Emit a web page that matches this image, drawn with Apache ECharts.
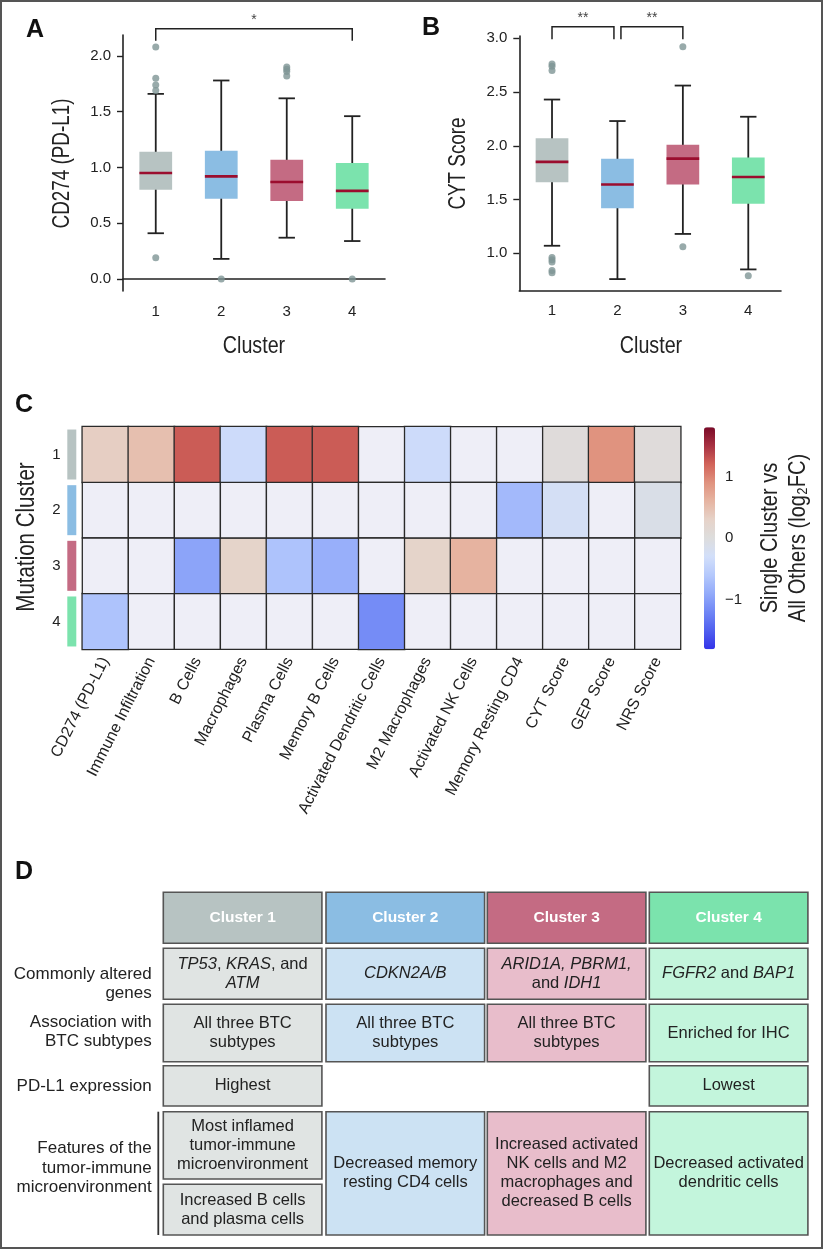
<!DOCTYPE html>
<html>
<head>
<meta charset="utf-8">
<script src="https://cdn.jsdelivr.net/npm/echarts@6/dist/echarts.min.js"></script>
<style>
  html, body { margin: 0; padding: 0; background: #fff; }
  #chart { width: 823px; height: 1249px; }
</style>
</head>
<body>
<div id="chart"></div>
<script>
// ─── data ─────────────────────────────────────────────────────────────────────
const clusters      = ['1', '2', '3', '4']
const clusterColors = ['#b7c3c2', '#8bbde3', '#c46b83', '#7be3ad']
const clusterLight  = ['#e0e4e3', '#cce2f3', '#e8bdcb', '#c3f5dc']

// panel A — CD274 (PD-L1): [low whisker, q1, median, q3, high whisker]
const pdl1Box = [
  [0.41, 0.80, 0.95, 1.14, 1.66],
  [0.18, 0.72, 0.92, 1.15, 1.78],
  [0.37, 0.70, 0.87, 1.07, 1.62],
  [0.34, 0.63, 0.79, 1.04, 1.46],
]
const pdl1Outliers = [[0, 2.08], [0, 1.80], [0, 1.74], [0, 1.69], [0, 0.19], [1, 0.0],
                      [2, 1.90], [2, 1.88], [2, 1.86], [2, 1.82], [3, 0.0]]
const pdl1Sig = [[0, 3, '*']]

// panel B — CYT score
const cytBox = [
  [1.07, 1.66, 1.85, 2.07, 2.43],
  [0.76, 1.42, 1.64, 1.88, 2.23],
  [1.18, 1.64, 1.88, 2.01, 2.56],
  [0.85, 1.46, 1.71, 1.89, 2.27],
]
const cytOutliers = [[0, 2.76], [0, 2.74], [0, 2.70], [0, 0.96], [0, 0.94], [0, 0.92],
                     [0, 0.84], [0, 0.82], [2, 2.92], [2, 1.06], [3, 0.79]]
const cytSig = [[0, 1, '**'], [1, 2, '**']]

// panel C — log2FC single cluster vs all others, null = not significant
const features = ['CD274 (PD-L1)', 'Immune Infiltration', 'B Cells', 'Macrophages', 'Plasma Cells',
  'Memory B Cells', 'Activated Dendritic Cells', 'M2 Macrophages', 'Activated NK Cells',
  'Memory Resting CD4', 'CYT Score', 'GEP Score', 'NRS Score']
const fcCluster1 = [0.35, 0.5, 1.25, -0.35, 1.25, 1.25, null, -0.35, null, null, 0.05, 0.9, 0.05]
const fcCluster2 = [null, null, null, null, null, null, null, null, null, -0.75, -0.25, null, -0.1]
const fcCluster3 = [null, null, -0.95, 0.28, -0.65, -0.85, null, 0.28, 0.62, null, null, null, null]
const fcCluster4 = [-0.65, null, null, null, null, null, -1.15, null, null, null, null, null, null]
const fcTicks    = [-1, 0, 1]
const fcColors   = ['#3333e8', '#4f5fef', '#6f86f5', '#92aafa', '#b4c8fc', '#d2dffa', '#dddddd',
                    '#e6d3c9', '#e6b5a2', '#e0937f', '#d2645a', '#a83242', '#7a0a28']

// panel D — summary table
const tableHeaders = ['Cluster 1', 'Cluster 2', 'Cluster 3', 'Cluster 4']
const rowLabels = ['Commonly altered\ngenes', 'Association with\nBTC subtypes', 'PD-L1 expression',
                   'Features of the\ntumor-immune\nmicroenvironment']
const genesText = ['{i|TP53}, {i|KRAS}, and\n{i|ATM}', '{i|CDKN2A/B}', '{i|ARID1A, PBRM1,}\nand {i|IDH1}',
                   '{i|FGFR2} and {i|BAP1}']
const btcText   = ['All three BTC\nsubtypes', 'All three BTC\nsubtypes', 'All three BTC\nsubtypes', 'Enriched for IHC']
const pdl1Text  = ['Highest', null, null, 'Lowest']
const featureText = [
  ['Most inflamed\ntumor-immune\nmicroenvironment', 'Increased B cells\nand plasma cells'],
  ['Decreased memory\nresting CD4 cells'],
  ['Increased activated\nNK cells and M2\nmacrophages and\ndecreased B cells'],
  ['Decreased activated\ndendritic cells'],
]

// ─── helpers ──────────────────────────────────────────────────────────────────
const SANS = '"Liberation Sans", Arial, Helvetica, sans-serif'
const INK  = '#222'

function boxRender(params, api) {
  const x  = api.value(0)
  const lo = api.coord([x, api.value(1)])
  const q1 = api.coord([x, api.value(2)])
  const md = api.coord([x, api.value(3)])
  const q3 = api.coord([x, api.value(4)])
  const hi = api.coord([x, api.value(5)])
  const w  = api.size([1, 0])[0] * 0.5
  const cx = lo[0]
  const ln = { stroke: INK, lineWidth: 1.8 }
  return {
    type: 'group',
    children: [
      { type: 'line', shape: { x1: cx, y1: hi[1], x2: cx, y2: lo[1] }, style: ln },
      { type: 'line', shape: { x1: cx - w / 4, y1: hi[1], x2: cx + w / 4, y2: hi[1] }, style: ln },
      { type: 'line', shape: { x1: cx - w / 4, y1: lo[1], x2: cx + w / 4, y2: lo[1] }, style: ln },
      { type: 'rect', shape: { x: cx - w / 2, y: q3[1], width: w, height: q1[1] - q3[1] },
        style: { fill: clusterColors[x] } },
      { type: 'line', shape: { x1: cx - w / 2, y1: md[1], x2: cx + w / 2, y2: md[1] },
        style: { stroke: '#9b0d2e', lineWidth: 2.6 } },
    ],
  }
}

function sigRender(sig, yBar, yFoot, yText) {
  const ends = sig.flatMap(s => [s[0], s[1]])
  const shared = i => ends.filter(e => e === i).length > 1
  return (params, api) => {
    const [from, to, label] = sig[params.dataIndex]
    const a = api.coord([from, yBar]), b = api.coord([to, yBar])
    const x1 = a[0] + (shared(from) ? 3.5 : 0)
    const x2 = b[0] - (shared(to) ? 3.5 : 0)
    const yb = a[1], yf = api.coord([from, yFoot])[1], yt = api.coord([from, yText])[1]
    return {
      type: 'group',
      children: [
        { type: 'polyline', shape: { points: [[x1, yf], [x1, yb], [x2, yb], [x2, yf]] },
          style: { stroke: INK, lineWidth: 1.5, fill: null } },
        { type: 'text', style: { text: label, x: (x1 + x2) / 2, y: yt, align: 'center',
          verticalAlign: 'middle', fontSize: 14, fontFamily: SANS, fill: '#444' } },
      ],
    }
  }
}

function boxAxes(gridIndex, min, max, ticks) {
  return {
    x: {
      gridIndex, type: 'category', data: clusters,
      axisLine: { lineStyle: { color: INK, width: 1.6 } },
      axisTick: { alignWithLabel: true, length: 6, lineStyle: { color: INK, width: 1.4 } },
      axisLabel: { fontSize: 15, fontFamily: SANS, color: INK, margin: 13 },
    },
    y: {
      gridIndex, type: 'value', min, max,
      axisLine: { show: true, lineStyle: { color: INK, width: 1.6 } },
      axisTick: { show: true, length: 6, customValues: ticks, lineStyle: { color: INK, width: 1.4 } },
      axisLabel: { fontSize: 15, fontFamily: SANS, color: INK, margin: 12, customValues: ticks,
                   formatter: v => v.toFixed(1) },
      splitLine: { show: false },
    },
  }
}

const axA = boxAxes(0, -0.108, 2.188, [0, 0.5, 1, 1.5, 2])
const axB = boxAxes(1, 0.652, 3.021, [1, 1.5, 2, 2.5, 3])

// heatmap data
const fcRows  = [fcCluster1, fcCluster2, fcCluster3, fcCluster4]
const fcData  = []
const naData  = []
fcRows.forEach((row, r) => row.forEach((v, c) => {
  if (v === null) naData.push([c, r])
  else fcData.push([c, r, v])
}))

const rowRich = { n: { fontSize: 15, fontFamily: SANS, color: INK, width: 12, align: 'center' }, s: { width: 5 } }
clusterColors.forEach((c, i) => { rowRich['c' + i] = { width: 9, height: 50, backgroundColor: c } })

// ─── table graphics ─────────────────────────────────────────────────────────
const colX = [163.3, 326, 487.3, 649.3]
const colW = 158.6
const rowsY = [[892.3, 51], [948.3, 51], [1004.3, 57.4], [1065.7, 40.3], [1111.7, 123.3]]
const labelShift = [10, -1, 0, -5.5]
const cellBorder = '#555'
const richI = { i: { fontStyle: 'italic', fontSize: 16.5, fontFamily: SANS, fill: INK, lineHeight: 19 } }

function cell(x, y, w, h, fill, text, opts = {}) {
  const out = [{
    type: 'rect', shape: { x, y, width: w, height: h },
    style: { fill, stroke: cellBorder, lineWidth: 1.6 },
  }]
  if (text) out.push({
    type: 'text',
    style: {
      text, x: x + w / 2, y: y + h / 2, align: 'center', verticalAlign: 'middle',
      textAlign: 'center', textVerticalAlign: 'middle',
      fontSize: opts.bold ? 15.5 : 16.5, fontFamily: SANS, fill: opts.color || INK,
      fontWeight: opts.bold ? 'bold' : 'normal', lineHeight: 19, rich: richI,
    },
  })
  return out
}

const tableEls = []
tableHeaders.forEach((t, i) => tableEls.push(...cell(colX[i], rowsY[0][0], colW, rowsY[0][1], clusterColors[i], t, { color: '#fff', bold: true })))
genesText.forEach((t, i) => tableEls.push(...cell(colX[i], rowsY[1][0], colW, rowsY[1][1], clusterLight[i], t)))
btcText.forEach((t, i) => tableEls.push(...cell(colX[i], rowsY[2][0], colW, rowsY[2][1], clusterLight[i], t)))
pdl1Text.forEach((t, i) => { if (t) tableEls.push(...cell(colX[i], rowsY[3][0], colW, rowsY[3][1], clusterLight[i], t)) })
featureText.forEach((parts, i) => {
  const [y0, h0] = rowsY[4]
  if (parts.length === 1) tableEls.push(...cell(colX[i], y0, colW, h0, clusterLight[i], parts[0]))
  else {
    const gap = 5.3, h1 = 67.3
    tableEls.push(...cell(colX[i], y0, colW, h1, clusterLight[i], parts[0]))
    tableEls.push(...cell(colX[i], y0 + h1 + gap, colW, h0 - h1 - gap, clusterLight[i], parts[1]))
  }
})
rowLabels.forEach((t, r) => {
  const [y, h] = rowsY[r + 1]
  tableEls.push({
    type: 'text',
    style: { text: t, x: 151.7, y: y + h / 2 + labelShift[r], align: 'right', verticalAlign: 'middle',
             textAlign: 'right', textVerticalAlign: 'middle',
             fontSize: 17, fontFamily: SANS, fill: INK, lineHeight: 19.2 },
  })
})
tableEls.push({ type: 'line', shape: { x1: 158.3, y1: 1111.7, x2: 158.3, y2: 1235 },
                style: { stroke: '#333', lineWidth: 1.8 } })

function panelLetter(t, x, y) {
  return { type: 'text', style: { text: t, x, y, align: 'center', verticalAlign: 'middle',
    textAlign: 'center', textVerticalAlign: 'middle',
    fontSize: 25, fontWeight: 'bold', fontFamily: SANS, fill: '#111' } }
}

// condensed-looking titles: regular sans squeezed along the text direction
function title(t, x, y, size, rotated) {
  return { type: 'text', x, y, rotation: rotated ? Math.PI / 2 : 0, scaleX: 0.82,
    style: { text: t, x: 0, y: 0, align: 'center', verticalAlign: 'middle',
             textAlign: 'center', textVerticalAlign: 'middle',
             fontSize: size, fontFamily: SANS, fill: INK, lineHeight: 28 } }
}

// ─── option ───────────────────────────────────────────────────────────────────
const option = {
  animation: false,
  backgroundColor: '#fff',
  grid: [
    { left: 123, top: 35, width: 262, height: 256 },
    { left: 519.3, top: 36, width: 261.7, height: 254.7 },
    { left: 82.3, top: 426.7, width: 598.4, height: 222.6 },
    { left: 704, top: 427.3, width: 11, height: 222 },
  ],
  xAxis: [
    axA.x, axB.x,
    {
      gridIndex: 2, type: 'category', data: features,
      axisLine: { show: false }, axisTick: { show: false },
      axisLabel: { rotate: 63, fontSize: 16, fontFamily: SANS, color: INK, margin: 9, interval: 0 },
    },
    { gridIndex: 3, type: 'value', show: false, min: 0, max: 1 },
  ],
  yAxis: [
    axA.y, axB.y,
    {
      gridIndex: 2, type: 'category', data: clusters, inverse: true,
      axisLine: { show: false }, axisTick: { show: false },
      axisLabel: { margin: 6, formatter: (v, i) => `{n|${v}}{s|}{c${i}|}`, rich: rowRich },
    },
    {
      gridIndex: 3, type: 'value', position: 'right', min: -1.8, max: 1.8,
      axisLine: { show: false }, splitLine: { show: false },
      axisTick: { show: true, length: 6, customValues: fcTicks, lineStyle: { color: INK, width: 1.3 } },
      axisLabel: { fontSize: 15, fontFamily: SANS, color: INK, margin: 10, customValues: fcTicks,
                   formatter: v => String(v).replace('-', '\u2212') },
    },
  ],
  visualMap: {
    type: 'continuous', seriesIndex: 6, min: -1.8, max: 1.8, dimension: 2,
    calculable: false, hoverLink: false, text: ['', ''], padding: 0,
    orient: 'vertical', left: 704, top: 427.3, itemWidth: 11, itemHeight: 222,
    inRange: { color: fcColors },
  },
  series: [
    { type: 'custom', xAxisIndex: 0, yAxisIndex: 0, renderItem: boxRender, clip: false,
      data: pdl1Box.map((b, i) => [i, ...b]), encode: { x: 0, y: [1, 2, 3, 4, 5] }, z: 2 },
    { type: 'scatter', xAxisIndex: 0, yAxisIndex: 0, data: pdl1Outliers, symbolSize: 7,
      itemStyle: { color: '#7e9595' }, z: 3 },
    { type: 'custom', xAxisIndex: 0, yAxisIndex: 0, clip: false,
      renderItem: sigRender(pdl1Sig, 2.245, 2.137, 2.324), data: pdl1Sig.map(s => [s[0], s[1]]) },

    { type: 'custom', xAxisIndex: 1, yAxisIndex: 1, renderItem: boxRender, clip: false,
      data: cytBox.map((b, i) => [i, ...b]), encode: { x: 0, y: [1, 2, 3, 4, 5] }, z: 2 },
    { type: 'scatter', xAxisIndex: 1, yAxisIndex: 1, data: cytOutliers, symbolSize: 7,
      itemStyle: { color: '#7e9595' }, z: 3 },
    { type: 'custom', xAxisIndex: 1, yAxisIndex: 1, clip: false,
      renderItem: sigRender(cytSig, 3.108, 2.99, 3.19), data: cytSig.map(s => [s[0], s[1]]) },

    { type: 'heatmap', xAxisIndex: 2, yAxisIndex: 2, data: fcData,
      itemStyle: { borderColor: '#2a2a2a', borderWidth: 1.3 }, emphasis: { disabled: true } },
    { type: 'custom', xAxisIndex: 2, yAxisIndex: 2, data: naData,
      renderItem: (params, api) => {
        const p = api.coord([api.value(0), api.value(1)])
        const s = api.size([1, 1])
        return { type: 'rect', shape: { x: p[0] - s[0] / 2, y: p[1] - s[1] / 2, width: s[0], height: s[1] },
                 style: { fill: '#eeeef7', stroke: '#2a2a2a', lineWidth: 1.3 } }
      } },
  ],
  graphic: [
    { type: 'rect', shape: { x: 1, y: 1, width: 821, height: 1247 },
      style: { fill: null, stroke: '#555', lineWidth: 2 }, silent: true },
    panelLetter('A', 35, 30),
    panelLetter('B', 431, 28),
    panelLetter('C', 24, 405),
    panelLetter('D', 24, 872),
    title('Cluster', 254, 346.5, 24, false),
    title('Cluster', 651, 346, 24, false),
    title('CD274 (PD-L1)', 63, 163.5, 23, true),
    title('CYT Score', 458.5, 163.5, 23, true),
    title('Mutation Cluster', 27, 537, 25, true),
    title('Single Cluster vs\nAll Others (log\u2082FC)', 784, 538, 24.5, true),
    ...tableEls,
  ],
}

const chart = echarts.init(document.getElementById('chart'))
chart.setOption(option)
</script>
</body>
</html>
